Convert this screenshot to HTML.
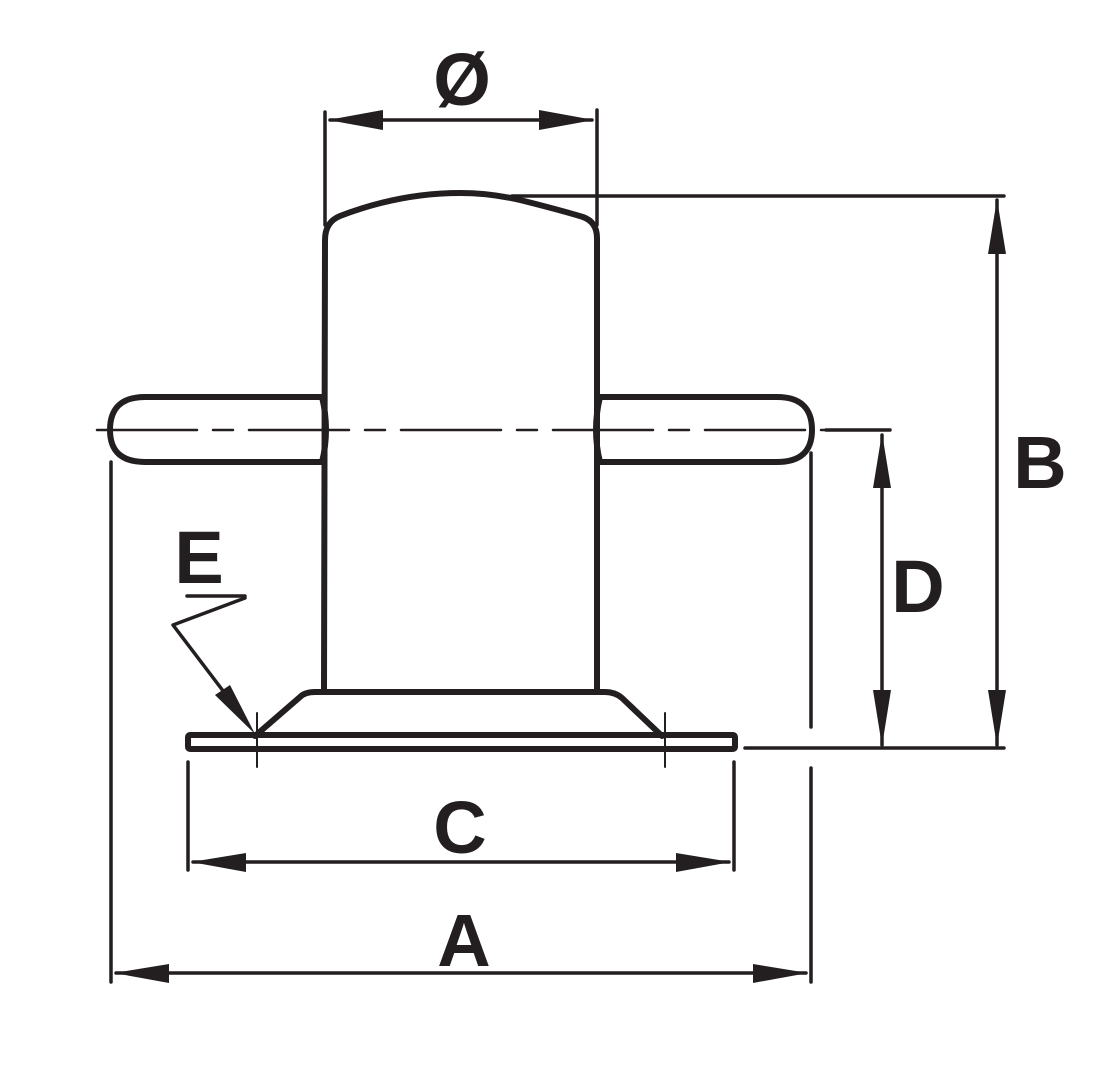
<!DOCTYPE html>
<html><head><style>html,body{margin:0;padding:0;background:#fff}</style></head><body>
<svg width="1102" height="1084" viewBox="0 0 1102 1084" xmlns="http://www.w3.org/2000/svg">
<g fill="none" stroke="#231f20" stroke-linecap="round" stroke-linejoin="round">
<path d="M324,690 L325,240 Q325,222 340,216 Q400,193 460,193 Q490,193 520,200 Q560,210 583,217 Q597,222 597,238 L597,690" stroke-width="6"/>
<path d="M322,397 L145,397 Q110,397 110,430 Q110,462 145,462 L322,462" stroke-width="6"/>
<path d="M322,397 Q330,430 322,462" stroke-width="6"/>
<path d="M600,397 L777,397 Q812,397 812,430 Q812,462 777,462 L600,462" stroke-width="6"/>
<path d="M600,397 Q592,430 600,462" stroke-width="6"/>
<line x1="97" y1="430" x2="890" y2="430" stroke-width="2.5" stroke-dasharray="100 16 20 16" />
<path d="M255,736 L300,697 Q305,692 315,692 L605,692 Q615,692 622,698 L662,736" stroke-width="6"/>
<rect x="188" y="735" width="547" height="14" stroke-width="6" rx="2"/>
<line x1="193" y1="742" x2="730" y2="742" stroke="#fff" stroke-width="2.5"/>
<line x1="257" y1="713" x2="257" y2="767" stroke-width="2"/>
<line x1="665" y1="713" x2="665" y2="767" stroke-width="2"/>
<g stroke-width="3.5">
<line x1="325" y1="112" x2="325" y2="225"/>
<line x1="597" y1="110" x2="597" y2="225"/>
<line x1="330" y1="120" x2="592" y2="120"/>
<line x1="512" y1="196" x2="1004" y2="196"/>
<line x1="997" y1="200" x2="997" y2="745"/>
<line x1="745" y1="748" x2="1004" y2="748"/>
<line x1="826" y1="430" x2="890" y2="430"/>
<line x1="882" y1="435" x2="882" y2="745"/>
<line x1="811" y1="453" x2="811" y2="727"/>
<line x1="811" y1="768" x2="811" y2="982"/>
<line x1="111" y1="462" x2="111" y2="982"/>
<line x1="116" y1="973" x2="806" y2="973"/>
<line x1="188" y1="762" x2="188" y2="870"/>
<line x1="734" y1="762" x2="734" y2="870"/>
<line x1="193" y1="862" x2="729" y2="862"/>
<line x1="187" y1="596" x2="245" y2="596"/>
<polyline points="245,598 173,625 230,700"/>
</g>
</g>
<g fill="#231f20">
<polygon points="328,120 383,110 383,130"/>
<polygon points="594,120 539,110 539,130"/>
<polygon points="997,199 988,254 1006,254"/>
<polygon points="997,746 988,690 1006,690"/>
<polygon points="882,433 873,488 891,488"/>
<polygon points="882,746 873,690 891,690"/>
<polygon points="114,973 169,964 169,983"/>
<polygon points="808,973 753,964 753,983"/>
<polygon points="191,862 246,853 246,872"/>
<polygon points="731,862 676,853 676,872"/>
<polygon points="255,734 215,695 230,685"/>
</g>
<g font-family="'Liberation Sans',sans-serif" font-size="74" font-weight="bold" fill="#231f20" text-anchor="middle">
<text x="462" y="105">Ø</text>
<text x="1040" y="488">B</text>
<text x="918" y="612">D</text>
<text x="199" y="583">E</text>
<text x="460" y="853">C</text>
<text x="464" y="966">A</text>
</g>
</svg>
</body></html>
